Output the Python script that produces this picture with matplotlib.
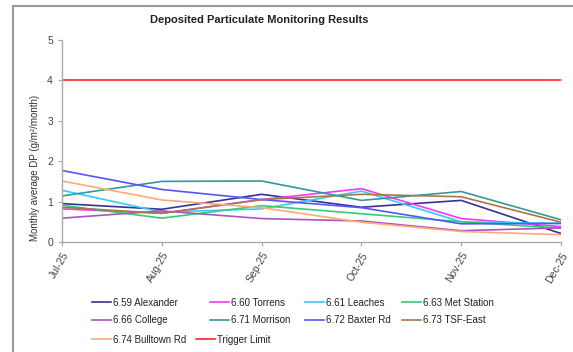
import matplotlib
matplotlib.use("Agg")
import matplotlib.pyplot as plt
from matplotlib.lines import Line2D

plt.rcParams["font.family"] = ["Liberation Sans", "DejaVu Sans"]

months = ["Jul-25", "Aug-25", "Sep-25", "Oct-25", "Nov-25", "Dec-25"]

alexander = [0.95, 0.81, 1.18, 0.86, 1.03, 0.21]
torrens = [0.82, 0.71, 1.05, 1.32, 0.58, 0.38]
leaches = [1.28, 0.74, 0.82, 1.26, 0.50, 0.46]
met_station = [0.91, 0.59, 0.90, 0.70, 0.50, 0.34]
college = [0.59, 0.77, 0.58, 0.52, 0.28, 0.35]
morrison = [1.14, 1.50, 1.51, 1.03, 1.25, 0.55]
baxter_rd = [1.77, 1.30, 1.05, 0.85, 0.45, 0.46]
tsf_east = [0.86, 0.71, 1.05, 1.18, 1.12, 0.49]
bulltown_rd = [1.51, 1.04, 0.85, 0.49, 0.26, 0.18]
trigger_limit = [4, 4, 4, 4, 4, 4]

series = [
    ("6.59 Alexander", alexander, "#333399"),
    ("6.60 Torrens", torrens, "#ff33ff"),
    ("6.61 Leaches", leaches, "#33ccff"),
    ("6.63 Met Station", met_station, "#33cc77"),
    ("6.66 College", college, "#aa55bb"),
    ("6.71 Morrison", morrison, "#339999"),
    ("6.72 Baxter Rd", baxter_rd, "#5555ff"),
    ("6.73 TSF-East", tsf_east, "#aa7744"),
    ("6.74 Bulltown Rd", bulltown_rd, "#ffaa77"),
    ("Trigger Limit", trigger_limit, "#ff2222"),
]

W, H = 573, 352
fig = plt.figure(figsize=(W / 100, H / 100), dpi=100)
ax = fig.add_axes([62 / W, 1 - 242 / H, (561 - 62) / W, (242 - 40) / H])

x = list(range(len(months)))
handles = []
for name, vals, col in series:
    h, = ax.plot(x, vals, color=col, lw=1.2, label=name)
    handles.append(h)

ax.set_xlim(0, len(months) - 1)
ax.set_ylim(0, 5)
ax.set_yticks([0, 1, 2, 3, 4, 5])
ax.set_xticks(x)
ax.set_xticklabels(months, rotation=60, ha="right", rotation_mode="anchor")
ax.tick_params(labelsize=7.5, colors="#444444", length=3, width=0.8, color="#aaaaaa")
ax.tick_params(axis="x", pad=3)
for s in ["top", "right"]:
    ax.spines[s].set_visible(False)
for s in ["left", "bottom"]:
    ax.spines[s].set_color("#aaaaaa")
    ax.spines[s].set_linewidth(1.0)

fig.text(259 / W, 1 - 20 / H, "Deposited Particulate Monitoring Results",
         ha="center", va="center", fontsize=8, fontweight="bold", color="#222222")
fig.text(35 / W, 1 - 168 / H, "Monthly average DP (g/m²/month)", rotation=90,
         ha="center", va="center", fontsize=7, color="#333333")

# outer chart frame (top and left edges visible)
fig.add_artist(Line2D([13 / W, 1], [1 - 6 / H, 1 - 6 / H], transform=fig.transFigure,
                      color="#999999", lw=1.5))
fig.add_artist(Line2D([13 / W, 13 / W], [0, 1 - 6 / H], transform=fig.transFigure,
                      color="#999999", lw=1.5))

# legend laid out like the original: two aligned rows, third row flowing
col_x = [87, 205, 300, 397]
leg_kw = dict(frameon=False, fontsize=7, handlelength=2.0, handletextpad=0.15,
              borderpad=0, labelspacing=0.75, loc="upper left")
for i, cx in enumerate(col_x):
    lg = fig.legend([handles[i], handles[i + 4]], [series[i][0], series[i + 4][0]],
                    bbox_to_anchor=(cx / W, 1 - 293 / H), **leg_kw)
    for t in lg.get_texts():
        t.set_color("#222222")
lg = fig.legend(handles[8:], [series[8][0], series[9][0]], ncol=2, columnspacing=1.0,
                bbox_to_anchor=(87 / W, 1 - 330 / H), **leg_kw)
for t in lg.get_texts():
    t.set_color("#222222")

fig.savefig("out.png", dpi=100)
